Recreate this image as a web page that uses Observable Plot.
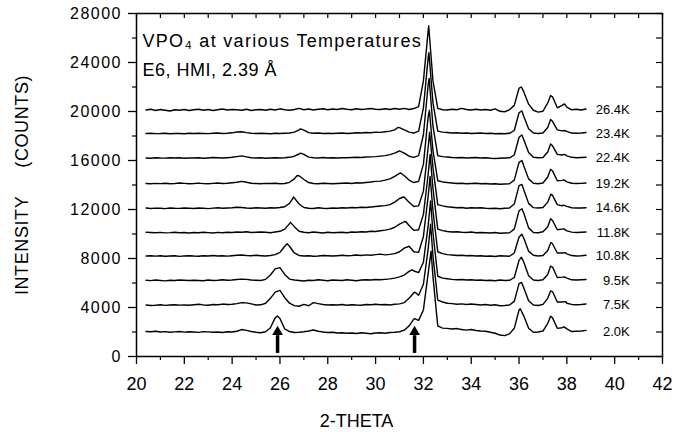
<!DOCTYPE html>
<html><head><meta charset="utf-8">
<script src="https://cdn.jsdelivr.net/npm/d3@7"></script>
<script src="https://cdn.jsdelivr.net/npm/@observablehq/plot@0.6"></script>
<style>
body{margin:0;background:#fff}
</style>
</head><body><div id="chart"></div>
<script>
// Temperatures (labels) and vertical offsets of each trace (counts)
const temps = ["2.0K","7.5K","9.5K","10.8K","11.8K","14.6K","19.2K","22.4K","23.4K","26.4K"];
const offsets = [2000,4200,6200,8200,10100,12100,14100,16200,18200,20100];
// 2-theta grid of the scans: 20.4 .. 38.8, step 0.2
const xs = d3.range(93).map(i => +(20.4 + 0.2 * i).toFixed(1));

// intensity above each trace's offset, read on the grid
const t_2_0K = [40,20,60,0,30,-20,10,40,-10,20, 0,-30,30,10,-20,0,-40,20,0,60, 200,130,40,-20,-60,20,350,1150,1100,250,
  40,-40,-20,20,80,160,60,0,-40,-20, -80,-60,-100,-80,-120,-60,-100,-140,-80,-60, -100,-40,-20,20,150,500,1050,950,1800,4800,
  4500,500,320,300,250,280,200,150,200,120, 80,60,-20,-100,-250,-300,-150,300,1800,1300, 300,-20,0,80,700,1150,300,350,250,40, 60,80,130];
const t_7_5K = [0,-40,-20,20,-30,0,30,-10,10,-20, 20,60,10,-20,40,20,80,40,60,120, 200,180,100,0,20,150,550,1050,1200,600,
  150,-50,-100,50,-60,200,120,40,0,20, 0,40,-20,30,0,-20,40,20,60,20, 40,0,60,100,200,550,1000,800,1700,4600,
  4000,400,250,150,120,60,100,50,80,40, 0,40,-20,20,-60,-40,0,300,1750,1400, 350,0,-40,60,550,1100,250,250,150,50, 20,40,80];
const t_9_5K = [20,-10,40,10,-30,20,0,40,20,0, 30,10,-20,40,0,20,60,30,40,80, 120,100,40,20,0,100,450,950,1050,500,
  120,40,0,-40,20,0,60,20,-20,40, 20,0,60,20,-20,40,60,40,80,60, 100,140,200,300,450,750,780,650,1500,4500,
  3900,350,200,150,100,60,80,40,60,20, 40,0,20,-20,40,0,20,250,1650,1500, 400,40,0,60,500,1100,250,280,200,60, 40,60,80];
const t_10_8K = [0,30,-10,20,-20,0,20,-30,10,30, 0,-20,30,10,40,0,20,-10,30,60, 80,40,20,60,30,0,40,120,300,800,
  800,250,50,0,30,-20,0,40,20,0, 30,60,20,40,80,40,100,60,120,160, 100,140,200,350,650,800,350,300,1600,4900,
  3700,350,200,120,80,40,60,20,40,0, 20,-20,0,-40,20,0,-20,250,1550,1450, 400,60,0,40,450,1000,250,250,180,40, 0,20,60];
const t_11_8K = [40,20,0,30,-10,10,40,0,20,-20, 20,0,40,10,-20,30,0,40,20,60, 40,80,20,40,60,40,0,60,120,300,
  750,500,120,40,0,60,20,-20,40,0, 20,40,0,60,40,80,60,120,100,160, 220,300,450,700,900,600,200,250,1500,4800,
  3600,300,180,100,60,80,40,20,60,0, 20,0,-20,20,-40,-20,0,300,1800,1600, 400,20,0,80,500,1000,250,300,150,50, 20,40,60];
const t_14_6K = [20,-20,10,0,-30,20,0,-10,20,0, -20,20,0,-30,10,40,0,20,40,80, 60,20,0,40,20,0,40,20,60,120,
  400,850,350,60,0,-20,40,0,-20,20, 0,40,20,60,40,80,60,100,140,180, 220,300,500,800,900,500,150,200,1400,5000,
  3300,300,200,120,80,40,60,0,40,20, 40,0,-20,0,-40,0,20,350,1850,1500, 400,50,20,60,500,1050,300,200,160,40, 20,20,40];
const t_19_2K = [20,0,30,10,40,0,20,60,30,0, 20,50,10,0,30,60,20,40,80,120, 200,120,40,20,0,30,20,40,0,20,
  120,400,650,350,100,20,0,40,20,0, 20,40,60,20,80,60,100,140,200,220, 300,400,600,850,650,300,100,200,1600,5500,
  2700,250,150,100,60,20,40,0,20,40, 0,20,-20,0,-40,-20,0,300,1750,1450, 400,40,0,60,550,1050,250,280,160,40, 20,30,60];
const t_22_4K = [0,-20,20,0,-10,20,0,30,-20,10, 0,20,-20,10,40,20,0,30,60,120, 180,100,20,0,20,-20,0,20,0,20,
  60,150,330,300,80,20,0,40,0,20, 0,30,20,40,60,40,80,100,120,160, 200,280,400,580,400,150,60,200,1900,6000,
  2600,200,120,80,40,20,40,0,20,40, 0,20,-20,-40,-20,0,20,250,1700,1500, 450,60,20,40,500,1000,300,250,180,60, 20,40,60];
const t_23_4K = [0,20,-10,0,20,-20,10,0,-20,20, 0,30,10,-10,20,40,0,20,60,130, 150,80,20,0,20,0,-20,20,0,30,
  50,120,300,280,80,20,40,0,20,0, 20,40,0,30,60,40,80,60,120,100, 150,200,300,480,300,120,40,200,2100,6200,
  2500,200,120,80,40,60,20,40,0,20, 40,0,20,-20,0,-20,20,250,1700,1400, 400,40,0,40,500,1000,300,220,180,40, 20,40,80];
const t_26_4K = [20,80,-20,60,0,-60,40,0,60,-20, 40,80,0,60,-20,40,100,20,60,40, 0,80,-20,40,60,0,80,20,120,40,
  0,60,150,40,100,20,80,120,40,100, 60,140,80,40,120,60,100,150,80,60, 120,60,140,80,160,60,140,300,2400,6500,
  2400,150,40,20,80,40,150,60,20,80, 20,60,0,120,-80,-120,40,400,1800,1500, 500,0,-150,-80,600,1100,200,400,250,40, 80,20,100];

// peak tops off the grid: [2-theta, intensity above offset]
const p_2_0K = [[25.89,1300],[31.63,1100],[32.32,6600],[36.05,1900],[37.32,1280],[37.88,420]];
const p_7_5K = [[31.65,1050],[32.3,6600],[36.1,1850],[37.32,1150],[37.95,280]];
const p_9_5K = [[31.53,880],[32.3,6500],[36.1,1900],[37.32,1180],[37.9,300]];
const p_10_8K = [[26.3,1000],[32.28,6500],[36.12,1780],[37.33,1100],[37.92,280]];
const p_11_8K = [[26.44,850],[31.26,920],[32.28,6400],[36.12,1960],[37.32,1140],[37.88,320]];
const p_14_6K = [[26.58,920],[31.17,920],[32.26,6200],[36.12,1950],[37.33,1150],[37.85,260]];
const p_19_2K = [[26.72,680],[31.05,880],[32.25,6000],[36.12,1900],[37.32,1180],[37.88,320]];
const p_22_4K = [[26.86,400],[32.24,6500],[36.12,1880],[37.32,1150],[37.9,300]];
const p_23_4K = [[26.86,380],[30.93,500],[32.23,6600],[36.12,1850],[37.32,1150],[37.9,250]];
const p_26_4K = [[32.22,6900],[36.1,1900],[37.32,1200],[37.9,520]];

// axis ticks
const xMajor = [20,22,24,26,28,30,32,34,36,38,40,42];
const xMinor = [21,23,25,27,29,31,33,35,37,39,41];
const yMajor = [0,4000,8000,12000,16000,20000,24000,28000];
const yMinor = [2000,6000,10000,14000,18000,22000,26000];
// arrows marking the peaks
const arrowX = [25.9, 31.63];
const labelX = 40.63;

const traces = [t_2_0K,t_7_5K,t_9_5K,t_10_8K,t_11_8K,t_14_6K,t_19_2K,t_22_4K,t_23_4K,t_26_4K];
const peaks = [p_2_0K,p_7_5K,p_9_5K,p_10_8K,p_11_8K,p_14_6K,p_19_2K,p_22_4K,p_23_4K,p_26_4K];
const data = [];
traces.forEach((vals, i) => {
  vals.forEach((v, j) => data.push({temp: temps[i], x: xs[j], y: offsets[i] + v}));
  peaks[i].forEach(([x, h]) => data.push({temp: temps[i], x, y: offsets[i] + h}));
});
data.sort((a, b) => a.x - b.x);
const labels = temps.map((t, i) => ({t, y: offsets[i]}));

const TITLE1 = "VPO\u2084 at various Temperatures";
const TITLE2 = "E6, HMI, 2.39 \u00c5";
const YTITLE = "INTENSITY\u00a0\u00a0\u00a0\u00a0\u00a0(COUNTS)";

const chart = Plot.plot({
  width: 681, height: 432,
  marginLeft: 136, marginRight: 19, marginTop: 13, marginBottom: 76,
  x: {domain: [20, 42]},
  y: {domain: [0, 28000]},
  style: {fontFamily: "'Liberation Sans', Arial, sans-serif", color: "black", background: "white"},
  marks: [
    Plot.axisX({ticks: xMajor, tickSize: 8, tickPadding: 13, fontSize: 18, label: null, tickFormat: d => String(d), strokeWidth: 1.3}),
    Plot.axisX({ticks: xMinor, tickSize: 4, tickFormat: () => "", label: null, strokeWidth: 1.2}),
    Plot.axisY({ticks: yMajor, tickSize: 8, tickPadding: 6.5, fontSize: 16, label: null, tickFormat: d => String(d), strokeWidth: 1.3}),
    Plot.axisY({ticks: yMinor, tickSize: 4, tickFormat: () => "", strokeWidth: 1.2,
      label: YTITLE, labelAnchor: "center", labelOffset: 121, labelArrow: "none", fontSize: 18}),
    Plot.ruleX(xMajor.concat(xMinor), {insetBottom: 338, strokeWidth: 1.2}),
    Plot.ruleY(yMajor.concat(yMinor), {insetLeft: 520, strokeWidth: 1.2}),
    Plot.frame({strokeWidth: 1.5}),
    Plot.line(data, {x: "x", y: "y", z: "temp", stroke: "black", strokeWidth: 1.4}),
    Plot.text(labels, {x: labelX, y: "y", text: "t", textAnchor: "end", fontSize: 13}),
    Plot.ruleX(arrowX, {y1: 250, y2: 1700, strokeWidth: 3.5}),
    Plot.dot(arrowX, {x: d => d, y: 2000, symbol: "triangle", r: 4, fill: "black", stroke: "none"}),
    Plot.text([TITLE1], {frameAnchor: "top-left", dx: 6, dy: 21, textAnchor: "start", fontSize: 18}),
    Plot.text([TITLE2], {frameAnchor: "top-left", dx: 6, dy: 50, textAnchor: "start", fontSize: 18}),
    Plot.text(["2-THETA"], {frameAnchor: "bottom", dx: -43, dy: 70, fontSize: 18})
  ]
});
document.getElementById("chart").appendChild(chart);

// typographic tweaks (the original figure is horizontally stretched)
const svg = d3.select(chart.tagName === "svg" ? chart : chart.querySelector("svg"));
svg.selectAll("text").each(function() {
  const s = this.textContent;
  if (s === TITLE1) this.style.letterSpacing = "1.3px";
  else if (s === TITLE2) this.style.letterSpacing = "0.5px";
  else if (s.startsWith("INTENSITY")) this.style.letterSpacing = "0.6px";
  else if (/^\d{4,5}$/.test(s) || s === "0") this.style.letterSpacing = "1.5px";
});
</script>
</body></html>
